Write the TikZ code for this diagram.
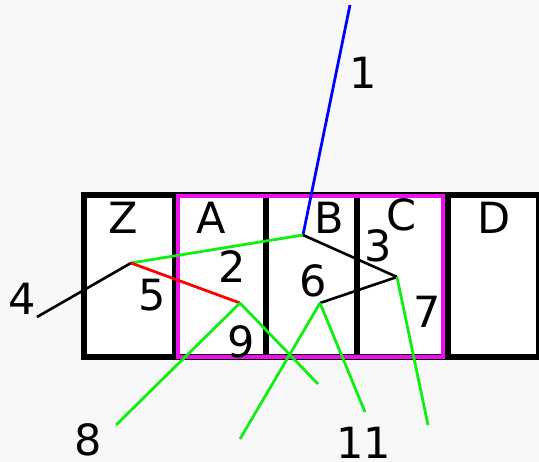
\documentclass[tikz,border=0pt]{standalone}
\usepackage{fontspec}
\setmainfont{DejaVu Sans}
\usepackage{tikz}

\definecolor{bgcol}{HTML}{F8F8F8}
\definecolor{lgreen}{HTML}{11EE11}
\definecolor{mag}{HTML}{EE11EE}

\tikzset{
  lbl/.style={inner sep=0pt, font=\fontsize{43}{43}\selectfont},
  cell/.style={draw=black, line width=5.5pt, fill=white},
  gline/.style={draw=lgreen, line width=2.8pt},
  kline/.style={draw=black, line width=2.6pt},
}

\begin{document}
\begin{tikzpicture}[x=1pt,y=-1pt]
        \useasboundingbox (0,0) rectangle (539,462);
        \fill[bgcol] (0,0) rectangle (539,462);
        \clip (0,0) rectangle (539,462);

        % cells
        \draw[cell] (84,195) rectangle (175,357);
        \draw[cell] (175,195) rectangle (266,357);
        \draw[cell] (266,195) rectangle (357,357);
        \draw[cell] (357,195) rectangle (448,357);
        \draw[cell] (448,195) rectangle (539,357);
        \draw[draw=mag, line width=3.5pt] (178,196) rectangle (443,357);

        \node[lbl] (z) at (123,218) {Z};
        \node[lbl] (a) at (211,218) {A};
        \node[lbl] (b) at (329,218) {B};
        \node[lbl] (c) at (402,215) {C};
        \node[lbl] (d) at (494,218) {D};

        % points
        \coordinate (p1) at (303,235);
        \coordinate (p2) at (131,263);
        \coordinate (p3) at (397,277);
        \coordinate (p4) at (240,303);
        \coordinate (p5) at (320,303);

        \coordinate (e1) at (350,5);
        \coordinate (e4) at (37,317);
        \coordinate (e7) at (428,425);
        \coordinate (e8) at (116,425);
        \coordinate (e9) at (318,384);
        \coordinate (e10) at (240,439);
        \coordinate (e11) at (365,412);

        \draw[blue, line width=2.8pt] (e1) -- (p1);
        \draw[gline] (p1) -- (p2);
        \draw[kline] (p2) -- (e4);
        \draw[red, line width=2.8pt] (p2) -- (p4);
        \draw[kline] (p1) -- (p3);
        \draw[kline] (p3) -- (p5);
        \draw[gline] (p3) -- (e7);
        \draw[gline] (p4) -- (e8);
        \draw[gline] (p4) -- (e9);
        \draw[gline] (p5) -- (e10);
        \draw[gline] (p5) -- (e11);

        \node[lbl] (n1) at (363,73) {1};
        \node[lbl] (n2) at (232,267) {2};
        \node[lbl] (n3) at (378,246) {3};
        \node[lbl] (n4) at (22,299) {4};
        \node[lbl] (n5) at (152,295) {5};
        \node[lbl] (n6) at (313,281) {6};
        \node[lbl] (n7) at (427,312) {7};
        \node[lbl] (n8) at (88,440) {8};
        \node[lbl] (n9) at (241,342) {9};
        \node[lbl] (n11) at (364,443) {11};
\end{tikzpicture}
\end{document}
